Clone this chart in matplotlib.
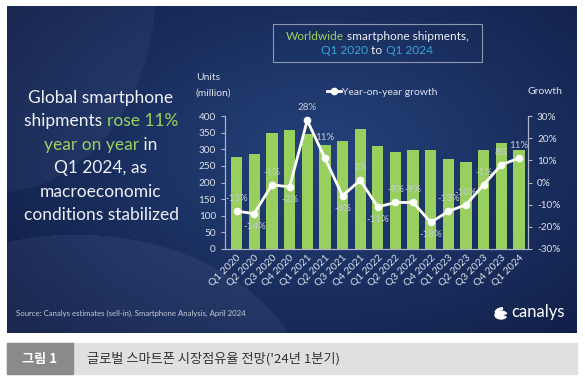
import numpy as np
import matplotlib.pyplot as plt
from matplotlib.patches import Rectangle, Circle, Wedge
from matplotlib.offsetbox import TextArea, HPacker, AnchoredOffsetbox
from matplotlib.lines import Line2D

quarters = ['Q1 2020', 'Q2 2020', 'Q3 2020', 'Q4 2020', 'Q1 2021', 'Q2 2021',
            'Q3 2021', 'Q4 2021', 'Q1 2022', 'Q2 2022', 'Q3 2022', 'Q4 2022',
            'Q1 2023', 'Q2 2023', 'Q3 2023', 'Q4 2023', 'Q1 2024']
shipments = [276, 287, 350, 359, 347, 314, 325, 362, 310, 292, 299, 299,
             272, 262, 299, 320, 299]
growth = [-13, -14, -1, -2, 28, 11, -6, 1, -11, -9, -9, -18, -13, -10, -1, 8, 11]
label_side = ['up', 'down', 'up', 'down', 'up', 'up2', 'down', 'up', 'down',
              'up', 'up', 'down', 'up', 'up', 'up', 'up', 'up']

FONT = ['Lato', 'DejaVu Sans']
plt.rcParams['font.family'] = FONT

W, H = 585, 384
fig = plt.figure(figsize=(W / 100, H / 100), dpi=100)
fig.patch.set_facecolor('white')


def fx(px):
    return px / W


def fy(py):
    return 1 - py / H


# background panel with gradient
bg = fig.add_axes([fx(7), fy(333), fx(577) - fx(7), fy(6) - fy(333)])
bg.set_zorder(0)
u, v = np.meshgrid(np.linspace(0, 1, 400), np.linspace(0, 1, 250))
c_mid = np.array([0x25, 0x42, 0x7b]) / 255
c_edge = np.array([0x0e, 0x1b, 0x42]) / 255
d = np.sqrt(((u - 0.55) / 0.75) ** 2 + ((v - 0.45) / 0.85) ** 2)
t = np.clip(d, 0, 1)[..., None]
img = c_mid * (1 - t) + c_edge * t
# lighter swooshes on the left
swA = (((u + 0.02) / 0.28) ** 2 + ((v + 0.05) / 0.62) ** 2) < 1
swB = (((u - 0.12) / 0.42) ** 2 + ((v - 1.25) / 0.55) ** 2) < 1
img[swA] += 0.035
img[swB] += 0.045
img = np.clip(img, 0, 1)
bg.imshow(img, aspect='auto', extent=[0, 1, 0, 1], origin='upper')
bg.set_xlim(0, 1)
bg.set_ylim(0, 1)
bg.axis('off')

# main chart
ax = fig.add_axes([fx(225), fy(249), fx(528) - fx(225), fy(116) - fy(249)])
ax.set_zorder(2)
ax.patch.set_alpha(0)
x = np.arange(len(quarters))
ax.bar(x, shipments, width=0.64, color='#98cf5f', zorder=2)
ax.set_xlim(-0.66, 16.51)
ax.set_ylim(0, 400)
ax.set_yticks(range(0, 401, 50))
ax.set_xticks(x)
ax.set_xticklabels(quarters, rotation=45, ha='right', rotation_mode='anchor')

ax2 = ax.twinx()
ax2.patch.set_alpha(0)
ax2.set_ylim(-30, 30)
ax2.set_yticks(range(-30, 31, 10))
ax2.set_yticklabels([f'{v}%' for v in range(-30, 31, 10)])
ax2.plot(x, growth, color='white', lw=2, marker='o', ms=4.5, zorder=3)

offs = {'up': 9, 'up2': 15, 'down': -9}
for xi, g, side in zip(x, growth, label_side):
    ax2.annotate(f'{g}%', (xi, g), xytext=(0, offs[side]), textcoords='offset points',
                 ha='center', va='center', fontsize=7, color='#c5ccd8')

spine_c = '#aeb6c6'
for a in (ax, ax2):
    a.spines['top'].set_visible(False)
    for s in ('left', 'right', 'bottom'):
        a.spines[s].set_color(spine_c)
        a.spines[s].set_linewidth(0.8)
    a.tick_params(colors=spine_c, labelcolor='#dde1e9', labelsize=7.2, length=3, width=0.8)
ax.tick_params(axis='x', length=0, pad=3, labelsize=7.4)

# axis titles and legend
fig.text(fx(196), fy(78), 'Units', color='#dde1e9', fontsize=7.5, va='center')
fig.text(fx(196), fy(93), '(million)', color='#dde1e9', fontsize=7.5, va='center')
fig.text(fx(545), fy(92), 'Growth', color='#dde1e9', fontsize=7.5, va='center', ha='center')
h = Line2D([], [], color='white', lw=2, marker='o', ms=4.5)
fig.legend([h], ['Year-on-year growth'], loc='center', bbox_to_anchor=(fx(382), fy(92)),
           frameon=False, handlelength=1.4, handletextpad=0.1, labelcolor='#dde1e9',
           prop={'size': 7.5})


def color_line(parts, px, py, size):
    boxes = [TextArea(s, textprops=dict(color=c, fontsize=size)) for s, c in parts]
    pack = HPacker(children=boxes, align='baseline', pad=0, sep=0)
    ab = AnchoredOffsetbox(loc='center', child=pack, bbox_to_anchor=(fx(px), fy(py)),
                           bbox_transform=fig.transFigure, frameon=False, pad=0, borderpad=0)
    ab.set_zorder(5)
    fig.add_artist(ab)


WH = '#eef0f4'
GR = '#9bd05c'
BL = '#3ba3d6'

# title box
fig.add_artist(Rectangle((fx(273), fy(62)), fx(482) - fx(273), fy(24) - fy(62),
                         transform=fig.transFigure, fill=False, ec='#8e9ab0', lw=0.8, zorder=4))
color_line([('Worldwide', GR), (' smartphone shipments,', WH)], 377, 36, 8.6)
color_line([('Q1 2020', BL), (' to ', WH), ('Q1 2024', BL)], 377, 51, 8.6)

# headline text
lines = [
    [('Global smartphone', WH)],
    [('shipments ', WH), ('rose 11%', GR)],
    [('year on year', GR), (' in', WH)],
    [('Q1 2024, as', WH)],
    [('macroeconomic', WH)],
    [('conditions stabilized', WH)],
]
for i, parts in enumerate(lines):
    color_line(parts, 101, 98 + i * 23.4, 12.5)

# source and logo
fig.text(fx(16), fy(313), 'Source: Canalys estimates (sell-in), Smartphone Analysis, April 2024',
         color='#c3cad8', fontsize=5.6, va='center')
fig.text(fx(511), fy(312), 'canalys', color='white', fontsize=12, va='center')
fig.add_artist(Wedge((fx(501), fy(315)), fx(6), 20, 330, transform=fig.transFigure,
                     color='white', zorder=5))
fig.add_artist(Wedge((fx(503), fy(313)), fx(8), 95, 170, width=fx(2.5), transform=fig.transFigure,
                     color='white', zorder=5))

# caption band
fig.add_artist(Rectangle((fx(7), fy(374)), fx(577) - fx(7), fy(343) - fy(374),
                         transform=fig.transFigure, color='#e0e0e0', zorder=1))
fig.add_artist(Rectangle((fx(7), fy(374)), fx(73) - fx(7), fy(343) - fy(374),
                         transform=fig.transFigure, color='#8a8a8a', zorder=1))
fig.text(fx(40), fy(358.5), '그림 1', color='white', fontsize=9.5, ha='center', va='center',
         family=['Noto Sans CJK KR', 'DejaVu Sans'], fontweight='bold')
fig.text(fx(87), fy(358.5), "글로벌 스마트폰 시장점유율 전망('24년 1분기)", color='#333333',
         fontsize=9.5, va='center', family=['Noto Sans CJK KR', 'DejaVu Sans'])

fig.savefig('out.png', dpi=100)
